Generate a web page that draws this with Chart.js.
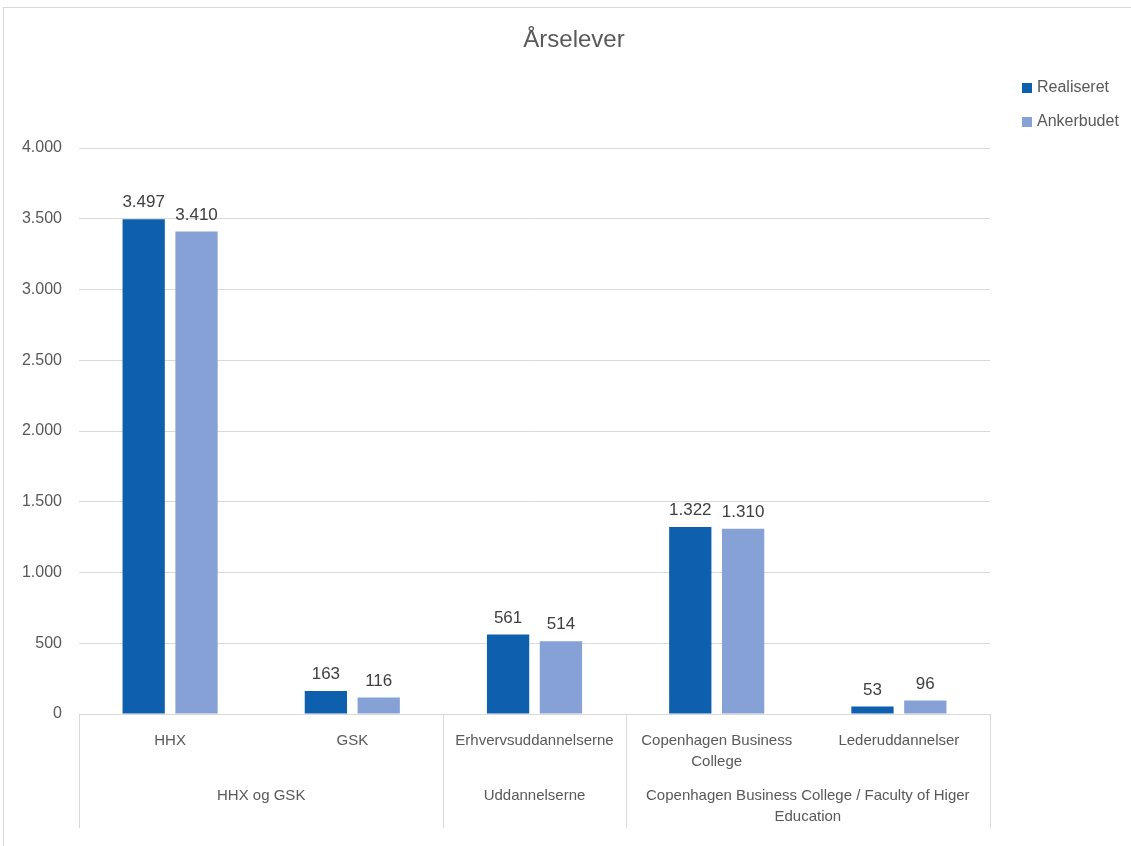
<!DOCTYPE html>
<html>
<head>
<meta charset="utf-8">
<script src="https://cdn.jsdelivr.net/npm/chart.js@4/dist/chart.umd.min.js"></script>
<style>
  html, body { margin: 0; padding: 0; background: #fff; }
  #wrap { position: absolute; left: 0; top: 0; width: 1131px; height: 846px; }
  #frame { position: absolute; left: 3px; top: 7px; width: 1140px; height: 850px; border: 1px solid #d9d9d9; box-sizing: border-box; }
</style>
</head>
<body>
<div id="wrap">
  <div id="frame"></div>
  <canvas id="chart" width="1131" height="846"></canvas>
</div>
<script>
// data
const categories = ['HHX', 'GSK', 'Erhvervsuddannelserne', ['Copenhagen Business', 'College'], 'Lederuddannelser'];
const groupLabels = [['HHX og GSK'], ['Uddannelserne'], ['Copenhagen Business College / Faculty of Higer', 'Education']];
const groupSpans = [2, 1, 2];
const realiseret = [3497, 163, 561, 1322, 53];
const ankerbudet = [3410, 116, 514, 1310, 96];
const yTicks = [0, 500, 1000, 1500, 2000, 2500, 3000, 3500, 4000];

const narrow = "'Liberation Sans Narrow', 'Liberation Sans', sans-serif";
const plain = "'Liberation Sans', Arial, sans-serif";

function fmt(v) {
  return String(v).replace(/\B(?=(\d{3})+(?!\d))/g, '.');
}

const extras = {
  id: 'extras',
  afterDraw(chart) {
    const c = chart.ctx;
    const area = chart.chartArea;
    const x = chart.scales.x;
    c.save();

    // title
    c.fillStyle = '#595959';
    c.font = '24px ' + narrow;
    c.textAlign = 'center';
    c.textBaseline = 'middle';
    c.fillText('Årselever', 574, 40);

    // legend
    c.font = '16px ' + narrow;
    c.textAlign = 'left';
    chart.data.datasets.forEach((ds, i) => {
      const y = 88 + i * 34;
      c.fillStyle = ds.backgroundColor;
      c.fillRect(1022, y - 5, 10, 10);
      c.fillStyle = '#595959';
      c.fillText(ds.label, 1037, y);
    });

    // data labels
    c.font = '17px ' + plain;
    c.fillStyle = '#404040';
    c.textAlign = 'center';
    c.textBaseline = 'bottom';
    chart.data.datasets.forEach((ds, i) => {
      chart.getDatasetMeta(i).data.forEach((bar, j) => {
        c.fillText(fmt(ds.data[j]), bar.x, bar.y - 8);
      });
    });

    // category separators and group labels
    const half = (x.getPixelForValue(1) - x.getPixelForValue(0)) / 2;
    c.strokeStyle = '#d9d9d9';
    c.lineWidth = 1;
    let idx = 0;
    const bounds = [x.getPixelForValue(0) - half];
    groupSpans.forEach(s => { idx += s; bounds.push(x.getPixelForValue(idx - 1) + half); });
    bounds.forEach(b => {
      const px = Math.round(b) + 0.5;
      c.beginPath();
      c.moveTo(px, area.bottom);
      c.lineTo(px, 828);
      c.stroke();
    });
    c.font = '15px ' + narrow;
    c.fillStyle = '#595959';
    c.textBaseline = 'middle';
    groupLabels.forEach((lines, g) => {
      const cx = (bounds[g] + bounds[g + 1]) / 2;
      lines.forEach((t, k) => c.fillText(t, cx, 796 + k * 21));
    });
    c.restore();
  }
};

new Chart(document.getElementById('chart'), {
  type: 'bar',
  data: {
    labels: categories,
    datasets: [
      { label: 'Realiseret', data: realiseret, backgroundColor: '#0E5FAE', categoryPercentage: 0.58, barPercentage: 0.8 },
      { label: 'Ankerbudet', data: ankerbudet, backgroundColor: '#86A1D6', categoryPercentage: 0.58, barPercentage: 0.8 }
    ]
  },
  options: {
    responsive: false,
    animation: false,
    devicePixelRatio: 1,
    layout: { padding: { top: 148, right: 141, left: 0, bottom: 0 } },
    plugins: { legend: { display: false }, title: { display: false }, tooltip: { enabled: false } },
    scales: {
      x: {
        grid: { display: false, drawTicks: false },
        border: { display: true, color: '#d9d9d9' },
        ticks: { color: '#595959', font: { family: narrow, size: 15, lineHeight: 1.4 }, padding: 16, maxRotation: 0, autoSkip: false },
        afterFit(s) { s.height = 132; }
      },
      y: {
        min: 0,
        max: 4000,
        afterBuildTicks(s) { s.ticks = yTicks.map(v => ({ value: v })); },
        grid: { color: '#d9d9d9', drawTicks: false },
        border: { display: false },
        ticks: { color: '#595959', font: { family: plain, size: 16 }, padding: 17, callback: v => fmt(v) },
        afterFit(s) { s.width = 79; }
      }
    }
  },
  plugins: [extras]
});
</script>
</body>
</html>
